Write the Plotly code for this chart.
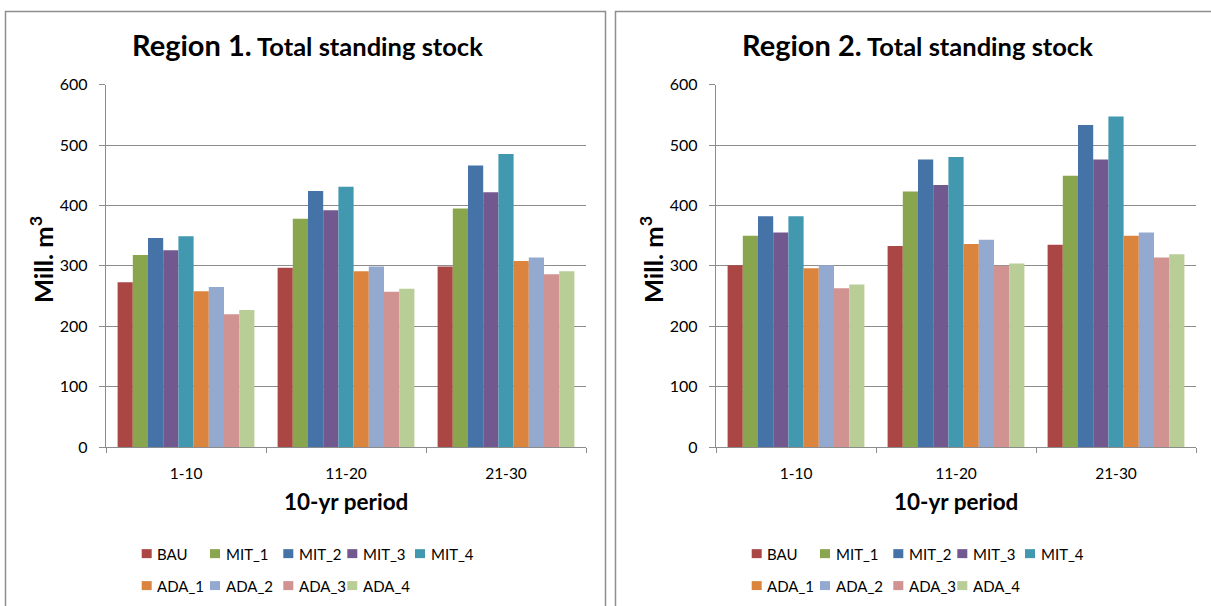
import plotly.graph_objects as go

# ---------------- data ----------------
periods = ["1-10", "11-20", "21-30"]
series_names = ["BAU", "MIT_1", "MIT_2", "MIT_3", "MIT_4", "ADA_1", "ADA_2", "ADA_3", "ADA_4"]
series_colors = ["#AA4643", "#89A54E", "#4572A7", "#71588F", "#4198AF",
                 "#DB843D", "#93A9CF", "#D19392", "#B9CD96"]

# values per period, in the order of series_names (Mill. m3)
region1_p1 = [273, 318, 346, 326, 349, 258, 265, 220, 227]
region1_p2 = [297, 378, 424, 392, 431, 291, 299, 257, 262]
region1_p3 = [299, 395, 466, 422, 485, 308, 314, 286, 291]

region2_p1 = [301, 350, 382, 355, 382, 296, 301, 263, 269]
region2_p2 = [333, 423, 476, 434, 480, 336, 343, 300, 304]
region2_p3 = [335, 449, 533, 476, 547, 350, 355, 314, 319]

y_ticks = [0, 100, 200, 300, 400, 500, 600]

# ---------------- layout helpers ----------------
W, H = 1211, 606
FONT = "Lato"
GRID = "#8C8C8C"


def px(x):
    return x / W


def py(y):
    # vertical calibration of the page rendering
    y = (y - 10.6) / 0.97
    return 1 - y / H


regions = [
    ("Region 1.", [region1_p1, region1_p2, region1_p3], "x", "y", 5, 106, 586),
    ("Region 2.", [region2_p1, region2_p2, region2_p3], "x2", "y2", 615, 716, 1196),
]

fig = go.Figure()
shapes = []
annotations = []

plot_top, plot_bottom = 85.3, 448.3

for ri, (title, rows, xa, ya, panel_left, pl, pr) in enumerate(regions):
    for si, name in enumerate(series_names):
        fig.add_trace(go.Bar(
            x=periods,
            y=[row[si] for row in rows],
            name=name,
            marker=dict(color=series_colors[si], line=dict(width=0)),
            xaxis=xa, yaxis=ya,
            showlegend=False,
        ))

    # panel border
    shapes.append(dict(type="rect", xref="paper", yref="paper",
                       x0=px(panel_left + 0.5), x1=px(panel_left + 600.5 if ri == 0 else panel_left + 700),
                       y0=py(660), y1=py(12),
                       line=dict(color="#8E8E8E", width=1.5), fillcolor="rgba(0,0,0,0)",
                       layer="below"))

    center = panel_left + 302
    annotations.append(dict(
        xref="paper", yref="paper", x=px(center), y=py(45),
        xanchor="center", yanchor="middle", showarrow=False,
        text=f"<b>{title}</b><span style='font-size:25.5px'><b> Total standing stock</b></span>",
        font=dict(family=FONT, size=29, color="#000000"),
    ))
    # y axis title
    annotations.append(dict(
        xref="paper", yref="paper", x=px(panel_left + 36), y=py(261),
        xanchor="center", yanchor="middle", showarrow=False, textangle=-90,
        text="<b>Mill. m<sup>3</sup></b>",
        font=dict(family=FONT, size=25.5, color="#000000"),
    ))
    # x axis title
    annotations.append(dict(
        xref="paper", yref="paper", x=px((pl + pr) / 2), y=py(503),
        xanchor="center", yanchor="middle", showarrow=False,
        text="<b>10-yr period</b>",
        font=dict(family=FONT, size=22.5, color="#000000"),
    ))

    # legend (two rows, Excel-style)
    leg_rows = [series_names[:5], series_names[5:]]
    leg_offsets = [136.7, 205, 278.3, 342.3, 410]
    leg_y = [555, 587]
    for r, names in enumerate(leg_rows):
        for c, name in enumerate(names):
            mx = panel_left + leg_offsets[c]
            color = series_colors[series_names.index(name)]
            shapes.append(dict(type="rect", xref="paper", yref="paper",
                               x0=px(mx), x1=px(mx + 10),
                               y0=py(leg_y[r] + 4.5), y1=py(leg_y[r] - 4.5),
                               line=dict(width=0), fillcolor=color))
            annotations.append(dict(
                xref="paper", yref="paper", x=px(mx + 13.5), y=py(leg_y[r]),
                xanchor="left", yanchor="middle", showarrow=False,
                text=name, font=dict(family=FONT, size=15, color="#000000"),
            ))

axis_common_x = dict(
    type="category", showline=True, linecolor=GRID, linewidth=1.3,
    ticks="outside", tickson="boundaries", ticklen=5, tickcolor=GRID, tickwidth=1.3,
    tickfont=dict(family=FONT, size=15.5, color="#000000"), ticklabelstandoff=12,
    showgrid=False, zeroline=False, fixedrange=True,
)
axis_common_y = dict(
    range=[0, 600], tickvals=y_ticks, showline=True, linecolor=GRID, linewidth=1.3,
    ticks="outside", ticklen=6, tickcolor=GRID, tickwidth=1.3,
    showgrid=True, gridcolor=GRID, gridwidth=1.3, zeroline=False,
    tickfont=dict(family=FONT, size=16, color="#000000"), ticklabelstandoff=8,
    fixedrange=True,
)

fig.update_layout(
    width=W, height=H,
    margin=dict(l=0, r=0, t=0, b=0),
    paper_bgcolor="white", plot_bgcolor="white",
    barmode="group", bargap=0.145, bargroupgap=0,
    xaxis=dict(domain=[px(106), px(586)], anchor="y", **axis_common_x),
    yaxis=dict(domain=[py(plot_bottom), py(plot_top)], anchor="x", **axis_common_y),
    xaxis2=dict(domain=[px(716), px(1196)], anchor="y2", **axis_common_x),
    yaxis2=dict(domain=[py(plot_bottom), py(plot_top)], anchor="x2", **axis_common_y),
    shapes=shapes,
    annotations=annotations,
    showlegend=False,
    font=dict(family=FONT),
)

fig.write_html(
    "out.html",
    config={"displayModeBar": False},
    post_script="document.body.style.margin='0';document.body.style.overflow='hidden';",
)
